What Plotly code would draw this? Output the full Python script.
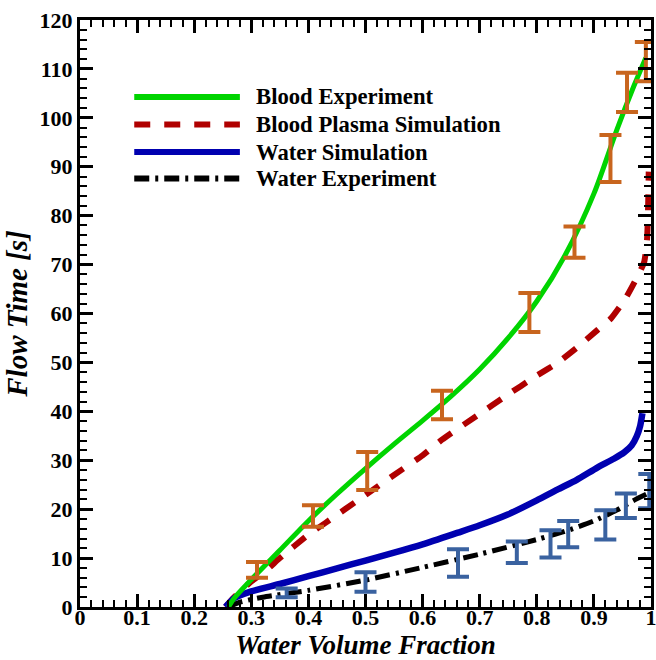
import plotly.graph_objects as go

# Blood Experiment (curve)
blood_exp_x = [0.26, 0.27, 0.30, 0.35, 0.40, 0.45, 0.50, 0.55, 0.60, 0.65, 0.70, 0.75, 0.80, 0.85, 0.90, 0.94, 0.97, 0.991]
blood_exp_y = [0.0, 1.8, 5.6, 11.6, 17.6, 23.1, 28.3, 33.3, 38.1, 43.1, 48.6, 55.0, 62.5, 72.0, 84.5, 97.5, 106.5, 112.3]

# Blood Plasma Simulation
plasma_x = [0.255, 0.27, 0.30, 0.327, 0.35, 0.40, 0.43, 0.50, 0.55, 0.60, 0.634, 0.70, 0.744, 0.80, 0.836, 0.87, 0.906, 0.93, 0.955, 0.976, 0.988, 0.993, 0.995, 0.996]
plasma_y = [0.0, 2.0, 5.2, 7.6, 10.0, 14.8, 17.2, 22.9, 27.0, 31.0, 34.2, 39.5, 43.0, 47.3, 49.9, 53.0, 56.6, 59.0, 63.0, 67.5, 70.5, 75.0, 82.0, 89.0]

# Water Simulation
water_sim_x = [0.255, 0.27, 0.30, 0.35, 0.40, 0.45, 0.50, 0.55, 0.60, 0.662, 0.70, 0.749, 0.80, 0.836, 0.87, 0.906, 0.935, 0.953, 0.966, 0.975, 0.981, 0.985]
water_sim_y = [0.0, 1.8, 3.2, 4.7, 6.3, 7.9, 9.5, 11.1, 12.8, 15.2, 16.7, 18.9, 21.8, 24.0, 26.0, 28.5, 30.3, 31.6, 33.0, 34.9, 37.0, 39.6]

# Water Experiment (curve)
water_exp_x = [0.26, 0.28, 0.32, 0.40, 0.50, 0.60, 0.70, 0.80, 0.85, 0.90, 0.94, 0.97, 1.0]
water_exp_y = [0.0, 1.0, 2.0, 3.4, 5.5, 8.1, 10.8, 13.8, 15.5, 17.6, 19.8, 21.8, 23.5]

# Blood experiment measurements with error
blood_pts_x = [0.31, 0.408, 0.503, 0.634, 0.787, 0.866, 0.929, 0.958, 0.991]
blood_pts_y = [7.6, 18.6, 27.8, 41.3, 60.2, 74.6, 91.7, 105.2, 111.5]
blood_pts_err = [1.6, 2.2, 3.9, 2.9, 4.0, 3.2, 4.8, 4.0, 4.0]

# Water experiment measurements with error
water_pts_x = [0.362, 0.500, 0.662, 0.765, 0.824, 0.855, 0.920, 0.956, 0.997]
water_pts_y = [2.9, 5.1, 9.0, 11.2, 12.9, 14.9, 16.8, 20.7, 23.7]
water_pts_err = [0.9, 2.0, 2.8, 2.2, 2.8, 2.7, 3.0, 2.5, 3.5]

legend_names = ["Blood Experiment", "Blood Plasma Simulation", "Water Simulation", "Water Experiment"]

GREEN = "#00D400"
RED = "#B00000"
BLUE = "#0000B0"
BLACK = "#000000"
ORANGE = "#C8651E"
EBLUE = "#3A62A0"
FONT = "Liberation Serif"

fig = go.Figure()
fig.add_trace(go.Scatter(x=plasma_x, y=plasma_y, mode="lines",
                         line=dict(color=RED, width=6, dash="16px,14px", shape="spline", smoothing=0.5),
                         showlegend=False))
fig.add_trace(go.Scatter(x=water_sim_x, y=water_sim_y, mode="lines",
                         line=dict(color=BLUE, width=6.5, shape="spline", smoothing=0.6), showlegend=False))
fig.add_trace(go.Scatter(x=water_exp_x, y=water_exp_y, mode="lines",
                         line=dict(color=BLACK, width=5, dash="15px,6px,3px,6px", shape="spline", smoothing=0.6),
                         showlegend=False))
fig.add_trace(go.Scatter(x=blood_exp_x, y=blood_exp_y, mode="lines",
                         line=dict(color=GREEN, width=5, shape="spline", smoothing=0.8), showlegend=False))
fig.add_trace(go.Scatter(x=blood_pts_x, y=blood_pts_y, mode="markers",
                         marker=dict(size=1, color=ORANGE, opacity=0),
                         error_y=dict(type="data", array=blood_pts_err, color=ORANGE, thickness=4, width=11),
                         cliponaxis=False, showlegend=False))
fig.add_trace(go.Scatter(x=water_pts_x, y=water_pts_y, mode="markers",
                         marker=dict(size=1, color=EBLUE, opacity=0),
                         error_y=dict(type="data", array=water_pts_err, color=EBLUE, thickness=4, width=11),
                         cliponaxis=False, showlegend=False))

# manual legend (long line samples)
leg_styles = [
    dict(color=GREEN, width=6, dash="solid"),
    dict(color=RED, width=6, dash="16px,14px"),
    dict(color=BLUE, width=6, dash="solid"),
    dict(color=BLACK, width=6, dash="15px,6px,3px,6px"),
]
leg_y = [0.869, 0.822, 0.775, 0.730]
for name, st, yy in zip(legend_names, leg_styles, leg_y):
    fig.add_shape(type="line", xref="paper", yref="paper", x0=0.095, x1=0.280, y0=yy, y1=yy,
                  line=st)
    fig.add_annotation(xref="paper", yref="paper", x=0.305, y=yy, text=name, showarrow=False,
                       xanchor="left", yanchor="middle",
                       font=dict(family=FONT, size=22.7, color="black", weight="bold"))

axis_common = dict(
    showline=True, linewidth=3, linecolor="black", mirror="ticks",
    ticks="inside", ticklen=13, tickwidth=3, tickcolor="black",
    showgrid=False, zeroline=False, automargin=False, ticklabeloverflow="allow",
    tickfont=dict(family=FONT, size=22, color="black", weight="bold"),
)
fig.update_xaxes(range=[0, 1], tickvals=[0, 0.1, 0.2, 0.3, 0.4, 0.5, 0.6, 0.7, 0.8, 0.9, 1.0],
                 ticktext=["0", "0.1", "0.2", "0.3", "0.4", "0.5", "0.6", "0.7", "0.8", "0.9", "1"],
                 ticklabelstandoff=-11,
                 minor=dict(dtick=0.02, ticks="inside", ticklen=7, tickwidth=2, tickcolor="black"),
                 title=dict(text="Water Volume Fraction", standoff=11,
                            font=dict(family=FONT, size=27, color="black", weight="bold", style="italic")),
                 **axis_common)
fig.update_yaxes(range=[0, 120], dtick=10,
                 minor=dict(dtick=2, ticks="inside", ticklen=7, tickwidth=2, tickcolor="black"),
                 title=dict(text="Flow Time [s]", standoff=4,
                            font=dict(family=FONT, size=29, color="black", weight="bold", style="italic")),
                 **axis_common)

fig.update_layout(width=656, height=660, margin=dict(l=80, r=5, t=20, b=53),
                  plot_bgcolor="white", paper_bgcolor="white", showlegend=False)

fig.write_html("out.html")
